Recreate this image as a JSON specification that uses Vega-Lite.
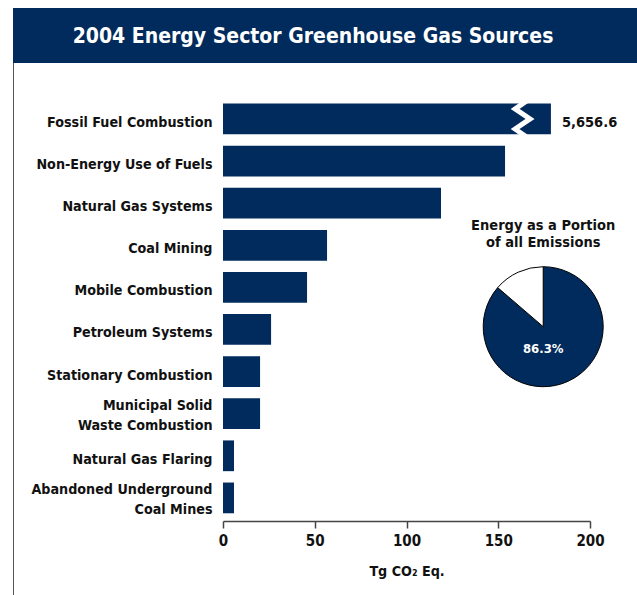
{
  "$schema": "https://vega.github.io/schema/vega-lite/v6.json",
  "padding": {"left": 13, "top": 8, "right": 0, "bottom": 0},
  "background": "white",
  "config": {
    "view": {"stroke": null},
    "font": "DejaVu Sans Condensed, DejaVu Sans, sans-serif"
  },
  "datasets": {
    "bars": [
      {"source": "Fossil Fuel Combustion", "value": 178.7, "label": "5,656.6", "axisBreak": 162.8},
      {"source": "Non-Energy Use of Fuels", "value": 153.7},
      {"source": "Natural Gas Systems", "value": 118.8},
      {"source": "Coal Mining", "value": 56.7},
      {"source": "Mobile Combustion", "value": 45.8},
      {"source": "Petroleum Systems", "value": 26.2},
      {"source": "Stationary Combustion", "value": 20.2},
      {"source": "Municipal Solid Waste Combustion", "value": 20.2},
      {"source": "Natural Gas Flaring", "value": 6.0},
      {"source": "Abandoned Underground Coal Mines", "value": 6.0}
    ],
    "pie": [
      {"part": "Energy", "share": 86.3, "label": "86.3%"},
      {"part": "Other", "share": 13.7}
    ]
  },
  "spacing": 0,
  "vconcat": [
    {
      "width": 624,
      "height": 55,
      "view": {"fill": "#002b5c", "stroke": null},
      "data": {"values": [{"title": "2004 Energy Sector Greenhouse Gas Sources"}]},
      "mark": {"type": "text", "color": "white", "fontSize": 21, "fontWeight": "bold", "dx": -12, "dy": 1.5, "baseline": "middle", "align": "center"},
      "encoding": {"text": {"field": "title"}}
    },
    {
      "spacing": 16,
      "hconcat": [
        {
          "width": 1,
          "height": 532,
          "view": {"fill": "#555555", "stroke": null},
          "data": {"values": []},
          "mark": "point",
          "encoding": {}
        },
        {
          "width": 367,
          "height": 458,
          "layer": [
            {
              "data": {"name": "bars"},
              "mark": {"type": "bar", "color": "#002b5c"},
              "encoding": {
                "x": {
                  "field": "value", "type": "quantitative",
                  "scale": {"domain": [0, 200], "nice": false},
                  "axis": {
                    "values": [0, 50, 100, 150, 200], "title": "Tg CO₂ Eq.", "grid": false, "labelFlush": false,
                    "domainColor": "#444444", "domainWidth": 1.5, "tickColor": "#444444", "tickWidth": 1.5, "tickSize": 7,
                    "labelFontSize": 15, "labelFontWeight": "bold", "labelColor": "#111111", "labelPadding": 5,
                    "titleFontSize": 14.2, "titleFontWeight": "bold", "titleColor": "#111111", "titlePadding": 16
                  }
                },
                "y": {
                  "field": "source", "type": "nominal", "sort": null,
                  "scale": {
                    "domain": ["Fossil Fuel Combustion", "Non-Energy Use of Fuels", "Natural Gas Systems", "Coal Mining", "Mobile Combustion", "Petroleum Systems", "Stationary Combustion", "Municipal Solid Waste Combustion", "Natural Gas Flaring", "Abandoned Underground Coal Mines"],
                    "paddingInner": 0.27, "paddingOuter": 0.5735, "align": 0.84
                  },
                  "axis": {
                    "title": null, "domain": false, "ticks": false,
                    "labelFontSize": 14.2, "labelFontWeight": "bold", "labelColor": "#111111", "labelPadding": 11,
                    "labelLimit": 300, "labelLineHeight": 20,
                    "labelOffset": {"condition": {"test": "datum.value == 'Municipal Solid Waste Combustion' || datum.value == 'Abandoned Underground Coal Mines'", "value": -8}, "value": 4},
                    "labelExpr": "datum.value == 'Municipal Solid Waste Combustion' ? ['Municipal Solid', 'Waste Combustion'] : datum.value == 'Abandoned Underground Coal Mines' ? ['Abandoned Underground', 'Coal Mines'] : datum.value"
                  }
                }
              }
            },
            {
              "data": {"name": "bars"},
              "transform": [{"filter": "isValid(datum.label)"}],
              "mark": {"type": "text", "align": "left", "dx": 11, "dy": 4, "fontSize": 14.5, "fontWeight": "bold", "color": "#111111"},
              "encoding": {
                "x": {"field": "value", "type": "quantitative"},
                "y": {"field": "source", "type": "nominal"},
                "text": {"field": "label"}
              }
            },
            {
              "data": {"name": "bars"},
              "transform": [{"filter": "isValid(datum.axisBreak)"}],
              "mark": {"type": "point", "shape": "M 0.27 -1.05 L -0.39 -0.59 L 0.49 0 L -0.39 0.59 L 0.27 1.05", "size": 1156, "filled": false, "stroke": "white", "strokeWidth": 5, "opacity": 1},
              "encoding": {
                "x": {"field": "axisBreak", "type": "quantitative"},
                "y": {"field": "source", "type": "nominal"}
              }
            },
            {
              "data": {"name": "pie"},
              "mark": {"type": "arc", "radius": 60, "stroke": "#000000", "strokeWidth": 1},
              "encoding": {
                "theta": {"field": "share", "type": "quantitative", "stack": true},
                "order": {"field": "share", "sort": "descending"},
                "color": {"field": "part", "type": "nominal", "scale": {"domain": ["Energy", "Other"], "range": ["#002b5c", "#ffffff"]}, "legend": null},
                "x": {"datum": 174.5, "type": "quantitative"},
                "y": {"datum": "Petroleum Systems", "type": "nominal", "bandPosition": 0.41}
              }
            },
            {
              "data": {"values": [{}]},
              "mark": {"type": "text", "align": "center", "baseline": "alphabetic", "fontSize": 14.5, "fontWeight": "bold", "color": "#111111", "lineHeight": 17},
              "encoding": {
                "text": {"value": ["Energy as a Portion", "of all Emissions"]},
                "x": {"datum": 174.5, "type": "quantitative"},
                "y": {"datum": "Coal Mining", "type": "nominal", "bandPosition": 0}
              }
            },
            {
              "data": {"name": "pie"},
              "transform": [{"filter": "isValid(datum.label)"}],
              "mark": {"type": "text", "align": "center", "baseline": "middle", "fontSize": 13, "fontWeight": "bold", "color": "white", "dy": -7},
              "encoding": {
                "text": {"field": "label"},
                "x": {"datum": 174.5, "type": "quantitative"},
                "y": {"datum": "Stationary Combustion", "type": "nominal", "bandPosition": 0}
              }
            }
          ]
        }
      ]
    }
  ]
}
